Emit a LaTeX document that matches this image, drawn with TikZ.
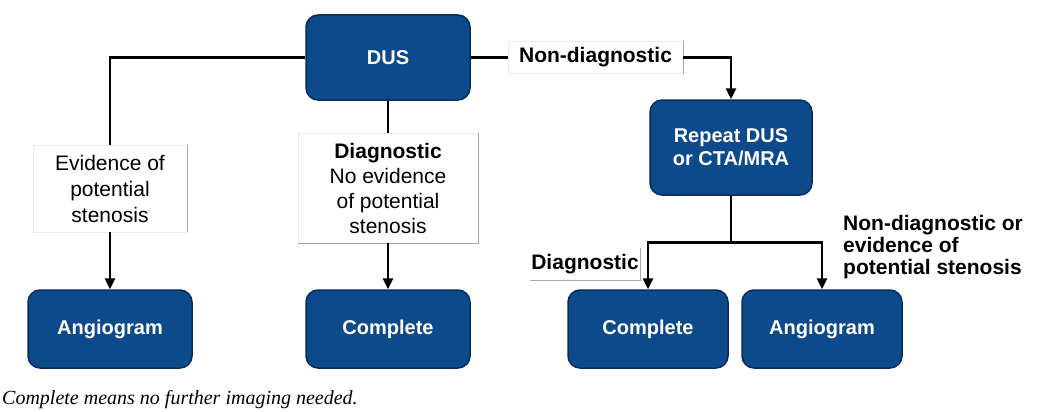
\documentclass[tikz,border=0pt]{standalone}
\usepackage{fontspec}
\setmainfont{Liberation Sans}
\newfontfamily\notefont{Liberation Serif}
\usetikzlibrary{arrows.meta}
\definecolor{dusblue}{RGB}{12,74,140}
\definecolor{dusedge}{RGB}{8,45,90}

\begin{document}
\begin{tikzpicture}[x=1pt, y=-1pt,
  stepnode/.style={draw=dusedge, line width=1.5pt, fill=dusblue, rounded corners=12pt,
    text=white, align=center, font=\fontsize{20}{23}\selectfont\bfseries,
    minimum width=164pt, minimum height=78pt, inner sep=0pt},
  flow/.style={line width=2.6pt},
  flowarrow/.style={flow, -{Triangle[length=11pt, width=10pt]}},
  note/.style={fill=white, draw=black!8, align=center, inner sep=0pt,
    font=\fontsize{21}{26}\selectfont},
  noteedge/.style={draw=black!35, line width=0.8pt}]
%\draw [help lines] (0,0) grid [step=50] (1044,412);
\useasboundingbox (0,0) rectangle (1044,412);

% boxes
\node [stepnode, minimum height=85pt] (dus) at (388,57.5) {DUS};
\node [stepnode, minimum width=162pt, minimum height=95pt] (repeat) at (731,147.5) {Repeat DUS\\or CTA/MRA};
\node [stepnode] (angioL) at (110,329) {Angiogram};
\node [stepnode] (completeM) at (388,329) {Complete};
\node [stepnode, minimum width=160pt] (completeR) at (648,329) {Complete};
\node [stepnode, minimum width=160pt] (angioR) at (822,329) {Angiogram};

% labels
\node [note, minimum width=154pt, minimum height=87pt] (evidence) at (110,188.5) {Evidence of\\potential\\stenosis};
\node [note, minimum width=180pt, minimum height=110pt, font=\fontsize{21}{25}\selectfont] (diagM) at (388,188) {\textbf{Diagnostic}\\No evidence\\of potential\\stenosis};
\node [note, minimum width=175pt, minimum height=32pt, font=\fontsize{21}{25}\selectfont\bfseries] (nondiag) at (595.5,57.5) {Non-diagnostic};
\node [note, draw=none, minimum width=110pt, minimum height=32pt, font=\fontsize{21}{25}\selectfont\bfseries] (diagR) at (585,264) {Diagnostic};
\node [note, draw=none, anchor=west, align=left, font=\fontsize{21}{22}\selectfont\bfseries] (nondiagR) at (843,247) {Non-diagnostic or\\evidence of\\potential stenosis};

\draw [noteedge] (evidence.north east) -- (evidence.south east);
\draw [noteedge] (diagM.north east) -- (diagM.south east) -- (diagM.south west);
\draw [noteedge] (nondiag.north east) -- (nondiag.south east);
\draw [noteedge] (diagR.north east) -- (diagR.south east) -- (diagR.south west);

% connectors
\draw [flow] (dus.west) -| (evidence.north);
\draw [flowarrow] (evidence.south) -- (angioL.north);
\draw [flow] (dus.south) -- (diagM.north);
\draw [flowarrow] (diagM.south) -- (completeM.north);
\draw [flow] (dus.east) -- (nondiag.west);
\draw [flowarrow] (nondiag.east) -| (repeat.north);
\draw [flow] (repeat.south) -- ++(0,47) coordinate (split);
\draw [flowarrow] (split) -| (completeR.north);
\draw [flowarrow] (split) -| (angioR.north);

\node [anchor=west, inner sep=0pt, font=\fontsize{20}{24}\selectfont\notefont\itshape] (caption) at (2,400) {Complete means no further imaging needed.};

\end{tikzpicture}
\end{document}
